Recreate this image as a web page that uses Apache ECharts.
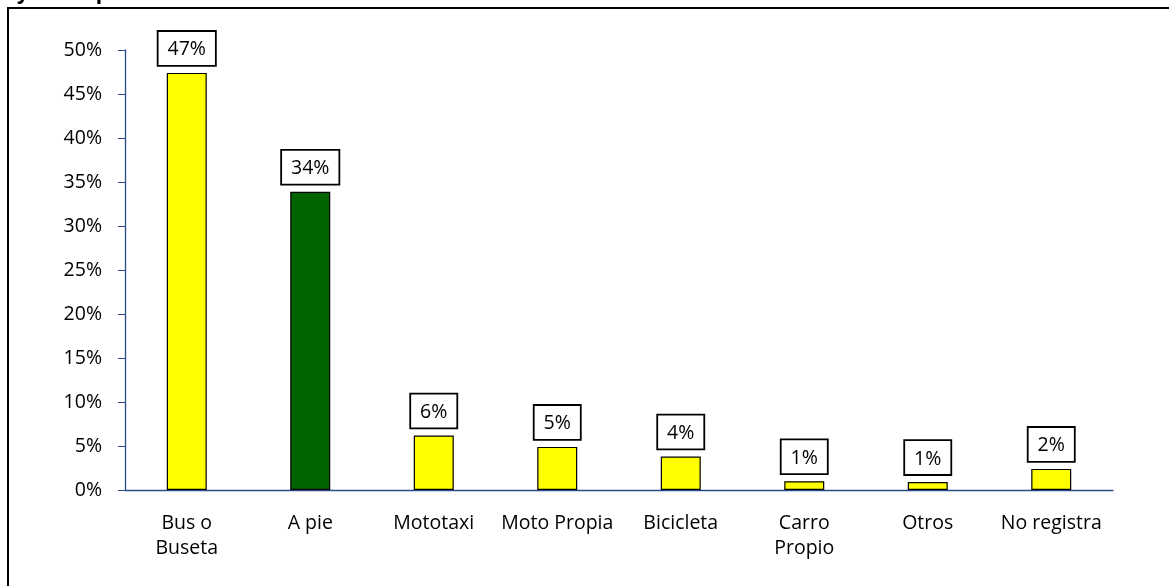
<!DOCTYPE html>
<html>
<head>
<meta charset="utf-8">
<script src="https://cdn.jsdelivr.net/npm/echarts@6/dist/echarts.min.js"></script>
<style>
html,body{margin:0;padding:0;background:#fff;}
#c{width:1169px;height:586px;}
</style>
</head>
<body>
<div id="c"></div>
<script>
const categories = ["Bus o\nBuseta", "A pie", "Mototaxi", "Moto Propia", "Bicicleta", "Carro\nPropio", "Otros", "No registra"];
const values = [47.4, 33.9, 6.2, 4.9, 3.8, 1.0, 0.9, 2.4];
const barColors = ["#FFFF00", "#006400", "#FFFF00", "#FFFF00", "#FFFF00", "#FFFF00", "#FFFF00", "#FFFF00"];
const yTicks = { min: 0, max: 50, interval: 5 };
const titleText = "Trayectos para ir a la institución";

const font = "'Open Sans', 'Noto Sans', sans-serif";
const axisColor = "#2B4C8C";

const chart = echarts.init(document.getElementById('c'), null, { renderer: 'canvas' });
chart.setOption({
  backgroundColor: '#fff',
  animation: false,
  graphic: [
    { type: 'rect', shape: { x: 8, y: 8, width: 1200, height: 620 }, style: { fill: 'none', stroke: '#000', lineWidth: 2 }, z: 0 },
    { type: 'text', left: -18, top: -19, style: { text: titleText, font: "bold 23px 'Liberation Sans', sans-serif", fill: '#000' }, z: 1 }
  ],
  grid: { left: 125, right: 56, top: 50, bottom: 96, containLabel: false },
  xAxis: {
    type: 'category',
    data: categories,
    axisLine: { lineStyle: { color: axisColor, width: 1.3 } },
    axisTick: { lineStyle: { color: axisColor }, length: 7 },
    axisLabel: { color: '#000', fontFamily: font, fontSize: 19.5, margin: 21, lineHeight: 25, interval: 0 }
  },
  yAxis: {
    type: 'value',
    min: yTicks.min, max: yTicks.max, interval: yTicks.interval,
    splitLine: { show: false },
    axisLine: { show: true, lineStyle: { color: axisColor, width: 1.3 } },
    axisTick: { show: true, length: 7, lineStyle: { color: axisColor } },
    axisLabel: { color: '#000', fontFamily: font, fontSize: 19.5, margin: 23, formatter: v => v + '%' }
  },
  series: [{
    type: 'bar',
    barWidth: 40,
    data: values.map((v, i) => ({ value: v, itemStyle: { color: barColors[i] } })),
    itemStyle: { borderColor: '#000', borderWidth: 1.2 },
    label: {
      show: true, position: 'top', distance: 8,
      formatter: p => Math.round(p.value) + '%',
      color: '#000', fontFamily: font, fontSize: 19.5,
      backgroundColor: '#fff', borderColor: '#000', borderWidth: 1.8,
      padding: [8, 9, 5, 9]
    }
  }]
});
</script>
</body>
</html>
